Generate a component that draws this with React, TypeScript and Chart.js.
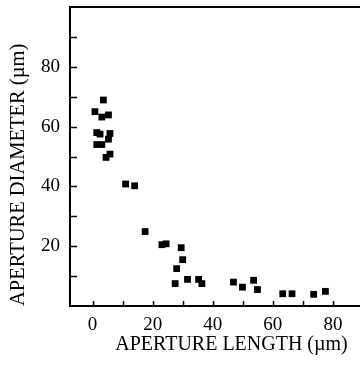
import React, { useEffect, useRef } from "react";
import { Chart, registerables } from "chart.js";

Chart.register(...registerables);

const apertureLength = [3.6, 0.8, 3.1, 5.3, 1.4, 2.5, 5.8, 5.3, 1.4, 3.1, 4.5, 5.8, 11, 14, 17.5, 23.1, 24.5, 29.5, 30, 28, 27.5, 31.6, 35.3, 36.4, 46.9, 49.9, 53.6, 54.9, 63.3, 66.4, 73.6, 77.5];
const apertureDiameter = [68.9, 65, 63.2, 63.9, 58, 57.5, 57.7, 55.8, 54, 54, 49.7, 50.8, 40.8, 40.2, 24.9, 20.5, 20.8, 19.5, 15.5, 12.5, 7.5, 8.9, 8.9, 7.5, 8, 6.3, 8.6, 5.5, 4.1, 4.1, 3.9, 4.9];
const xTickValues = [0, 10, 20, 30, 40, 50, 60, 70, 80, 90, 100];
const xTickLabels = ["0", "", "20", "", "40", "", "60", "", "80", "", ""];
const yTickValues = [0, 10, 20, 30, 40, 50, 60, 70, 80, 90, 100];
const yTickLabels = ["", "", "20", "", "40", "", "60", "", "80", "", ""];
const xTitle = "APERTURE LENGTH (\u00b5m)";
const yTitle = "APERTURE DIAMETER (\u00b5m)";

const FONT = "'Liberation Serif', 'DejaVu Serif', serif";

const frameTicks = {
  id: "frameTicks",
  afterDraw(chart: any) {
    const { ctx, chartArea } = chart;
    const xs = chart.scales.x;
    const ys = chart.scales.y;
    ctx.save();
    ctx.strokeStyle = "#000";
    ctx.lineWidth = 2;
    ctx.beginPath();
    ctx.moveTo(chartArea.left - 1, chartArea.top);
    ctx.lineTo(chartArea.right, chartArea.top);
    ctx.stroke();
    ctx.lineWidth = 1.5;
    ctx.beginPath();
    ys.ticks.forEach((t: any) => {
      if (t.value <= ys.min || t.value >= ys.max) return;
      const p = Math.round(ys.getPixelForValue(t.value)) + 0.5;
      ctx.moveTo(chartArea.left, p);
      ctx.lineTo(chartArea.left + 7, p);
    });
    xs.ticks.forEach((t: any) => {
      if (t.value <= xs.min || t.value >= xs.max) return;
      const p = Math.round(xs.getPixelForValue(t.value)) + 0.5;
      ctx.moveTo(p, chartArea.bottom);
      ctx.lineTo(p, chartArea.bottom - 5);
    });
    ctx.stroke();
    ctx.restore();
  },
};

export default function App() {
  const ref = useRef<HTMLCanvasElement | null>(null);
  useEffect(() => {
    if (!ref.current) return;
    const chart = new Chart(ref.current, {
      type: "scatter",
      data: {
        datasets: [
          {
            data: apertureLength.map((x, i) => ({ x, y: apertureDiameter[i] })),
            pointStyle: "rect",
            pointRadius: 4.8,
            backgroundColor: "#000",
            borderColor: "#000",
            borderWidth: 0,
          },
        ],
      },
      options: {
        responsive: false,
        animation: false,
        devicePixelRatio: 1,
        layout: { autoPadding: false, padding: { top: 7, right: 0, left: 0, bottom: 0 } },
        plugins: { legend: { display: false }, tooltip: { enabled: false } },
        scales: {
          x: {
            type: "linear",
            min: -7.5,
            max: 100,
            afterFit: (s: any) => {
              s.height = 63;
              s.paddingLeft = 0;
              s.paddingRight = 0;
            },
            afterBuildTicks: (s: any) => { s.ticks = xTickValues.map((v) => ({ value: v })); },
            grid: { display: false, drawTicks: false },
            border: { display: true, color: "#000", width: 2 },
            ticks: {
              padding: 8,
              color: "#000",
              font: { family: FONT, size: 19 },
              maxRotation: 0,
              autoSkip: false,
              callback: (v: any) => xTickLabels[xTickValues.indexOf(Number(v))] ?? "",
            },
            title: {
              display: true,
              text: xTitle,
              color: "#000",
              font: { family: FONT, size: 20 },
              padding: { top: 0, bottom: 12 },
            },
          },
          y: {
            type: "linear",
            min: 0,
            max: 100,
            afterFit: (s: any) => {
              s.width = 70;
              s.paddingTop = 0;
              s.paddingBottom = 0;
            },
            afterBuildTicks: (s: any) => { s.ticks = yTickValues.map((v) => ({ value: v })); },
            grid: { display: false, drawTicks: false },
            border: { display: true, color: "#000", width: 2 },
            ticks: {
              padding: 10,
              color: "#000",
              font: { family: FONT, size: 19 },
              autoSkip: false,
              callback: (v: any) => yTickLabels[yTickValues.indexOf(Number(v))] ?? "",
            },
            title: {
              display: true,
              text: yTitle,
              align: "start",
              color: "#000",
              font: { family: FONT, size: 20.5 },
              padding: { top: 6, bottom: 0 },
            },
          },
        },
      },
      plugins: [frameTicks],
    } as any);
    return () => chart.destroy();
  }, []);
  return (
    <div style={{ position: "fixed", left: 0, top: 0, width: 360, height: 369, overflow: "hidden", background: "#fff" }}>
      <canvas ref={ref} width={393} height={369} style={{ width: 393, height: 369, display: "block" }} />
    </div>
  );
}
